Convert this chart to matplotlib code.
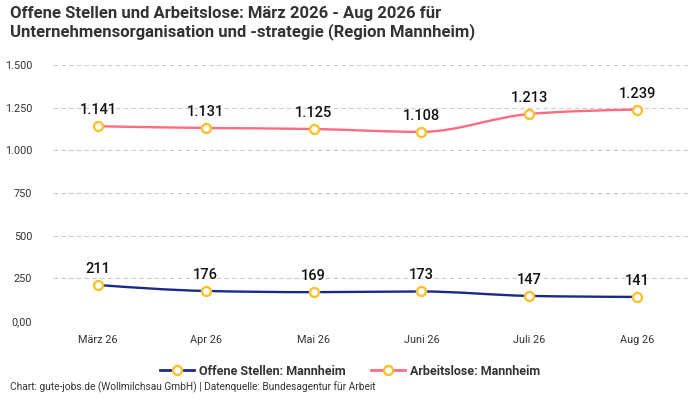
import matplotlib.pyplot as plt
import numpy as np
from matplotlib.path import Path
from matplotlib.patches import PathPatch
from matplotlib.lines import Line2D

plt.rcParams['font.family'] = ['Roboto', 'DejaVu Sans']

months = ['März 26', 'Apr 26', 'Mai 26', 'Juni 26', 'Juli 26', 'Aug 26']
offene_stellen = [211, 176, 169, 173, 147, 141]
arbeitslose = [1141, 1131, 1125, 1108, 1213, 1239]
y_ticks = [0, 250, 500, 750, 1000, 1250, 1500]
y_tick_labels = ['0,00', '250', '500', '750', '1.000', '1.250', '1.500']

navy = '#1b2a8a'
pink = '#ff6b81'
marker_edge = '#fbc02d'


def de_num(v):
    return f'{v:,}'.replace(',', '.')


def smooth_path(xs, ys):
    # monotone cubic (like d3 curveMonotoneX) as bezier segments
    xs = np.asarray(xs, float)
    ys = np.asarray(ys, float)
    n = len(xs)
    h = np.diff(xs)
    d = np.diff(ys) / h
    m = np.zeros(n)
    for i in range(1, n - 1):
        if d[i - 1] * d[i] <= 0:
            m[i] = 0
        else:
            p = (d[i - 1] * h[i] + d[i] * h[i - 1]) / (h[i - 1] + h[i])
            m[i] = np.sign(d[i - 1]) * min(abs(d[i - 1]), abs(d[i]), 0.5 * abs(p)) * 2
    m[0] = (3 * d[0] - m[1]) / 2 if n > 2 else d[0]
    m[-1] = (3 * d[-1] - m[-2]) / 2 if n > 2 else d[-1]
    verts = [(xs[0], ys[0])]
    codes = [Path.MOVETO]
    for i in range(n - 1):
        dx = h[i] / 3
        verts += [(xs[i] + dx, ys[i] + m[i] * dx),
                  (xs[i + 1] - dx, ys[i + 1] - m[i + 1] * dx),
                  (xs[i + 1], ys[i + 1])]
        codes += [Path.CURVE4] * 3
    return Path(verts, codes)


fig = plt.figure(figsize=(7, 4), dpi=100)
ax = fig.add_axes([0.0757, 0.1975, 0.91, 0.64])

x = np.arange(len(months))
for vals, col in [(offene_stellen, navy), (arbeitslose, pink)]:
    ax.add_patch(PathPatch(smooth_path(x, vals), facecolor='none',
                           edgecolor=col, lw=1.7, zorder=3))
    ax.plot(x, vals, ls='none', marker='o', ms=6.5, mfc='white',
            mec=marker_edge, mew=1.7, zorder=4)
    for xi, v in zip(x, vals):
        ax.annotate(de_num(v), (xi, v), xytext=(0, 6.5), textcoords='offset points',
                    ha='center', va='bottom', fontsize=10.5, fontweight='medium',
                    color='#111111', zorder=5)

ax.set_xlim(-0.417, 5.49)
ax.set_ylim(0, 1500)
ax.set_yticks(y_ticks)
ax.set_yticklabels(y_tick_labels)
ax.set_xticks(x)
ax.set_xticklabels(months)
ax.tick_params(axis='both', length=0, labelsize=7.8, colors='#333333')
ax.tick_params(axis='y', pad=15)
ax.tick_params(axis='x', pad=10)
ax.grid(axis='y', color='#cccccc', ls=(0, (4, 3)), lw=0.8)
for s in ax.spines.values():
    s.set_visible(False)

fig.text(0.014, 0.985, 'Offene Stellen und Arbeitslose: März 2026 - Aug 2026 für\n'
         'Unternehmensorganisation und -strategie (Region Mannheim)',
         ha='left', va='top', fontsize=12, fontweight='bold', color='#333333',
         linespacing=1.15)

handles = [Line2D([], [], color=navy, lw=2, marker='o', ms=6.5, mfc='white',
                  mec=marker_edge, mew=1.7),
           Line2D([], [], color=pink, lw=2, marker='o', ms=6.5, mfc='white',
                  mec=marker_edge, mew=1.7)]
leg = fig.legend(handles, ['Offene Stellen: Mannheim', 'Arbeitslose: Mannheim'],
                 loc='center', bbox_to_anchor=(0.5, 0.072), ncol=2, frameon=False,
                 prop={'size': 9, 'weight': 'bold'}, handlelength=2.7,
                 columnspacing=2.0, handletextpad=0.4)
for t in leg.get_texts():
    t.set_color('#333333')

fig.text(0.014, 0.018, 'Chart: gute-jobs.de (Wollmilchsau GmbH) | Datenquelle: Bundesagentur für Arbeit',
         ha='left', va='bottom', fontsize=7.3, color='#333333')

fig.savefig('out.png', dpi=100)
